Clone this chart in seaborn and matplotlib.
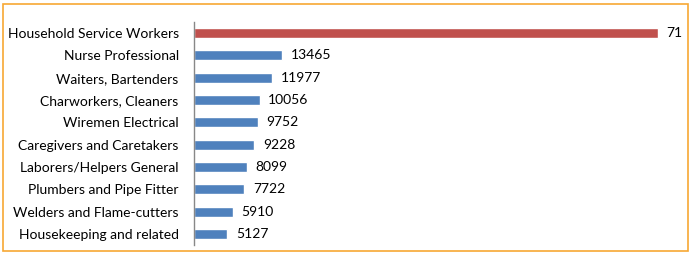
import matplotlib
matplotlib.use("Agg")
import matplotlib.pyplot as plt
import seaborn as sns
import pandas as pd
from matplotlib.patches import Rectangle

categories = ["Household Service Workers", "Nurse Professional", "Waiters, Bartenders",
              "Charworkers, Cleaners", "Wiremen Electrical", "Caregivers and Caretakers",
              "Laborers/Helpers General", "Plumbers and Pipe Fitter",
              "Welders and Flame-cutters", "Housekeeping and related"]
values = [71000, 13465, 11977, 10056, 9752, 9228, 8099, 7722, 5910, 5127]
value_labels = ["71", "13465", "11977", "10056", "9752", "9228", "8099", "7722", "5910", "5127"]
bar_colors = ["#C0504D"] + ["#4F81BD"] * 9

df = pd.DataFrame({"category": categories, "value": values})

sns.set_theme(style="white")
plt.rcParams['font.family'] = ['Lato', 'DejaVu Sans']

fig = plt.figure(figsize=(6.91, 2.54), dpi=100)
ax = fig.add_axes([194/691, 9/254, (686-194)/691, (245-22)/254])
sns.barplot(data=df, y="category", x="value", hue="category", palette=bar_colors,
            legend=False, width=0.45, ax=ax, saturation=1)
ax.set_xlim(0, 75300)
ax.set_ylim(9.5, -0.5)
ax.set_xlabel("")
ax.set_ylabel("")
ax.set_xticks([])
for s in ["top", "right", "bottom"]:
    ax.spines[s].set_visible(False)
ax.spines["left"].set_color("#888888")
ax.spines["left"].set_linewidth(1)
ax.tick_params(axis="y", length=0, pad=11, labelsize=10, labelcolor="#000000")
for i, (v, lab) in enumerate(zip(values, value_labels)):
    ax.text(v + 1300, i, lab, va="center", ha="left", fontsize=10, color="#000000")

fig.patches.append(Rectangle((3/691, 3/254), 685/691, 247/254, transform=fig.transFigure,
                             fill=False, edgecolor="#F7A833", linewidth=1.2))
fig.savefig("out.png", dpi=100)
